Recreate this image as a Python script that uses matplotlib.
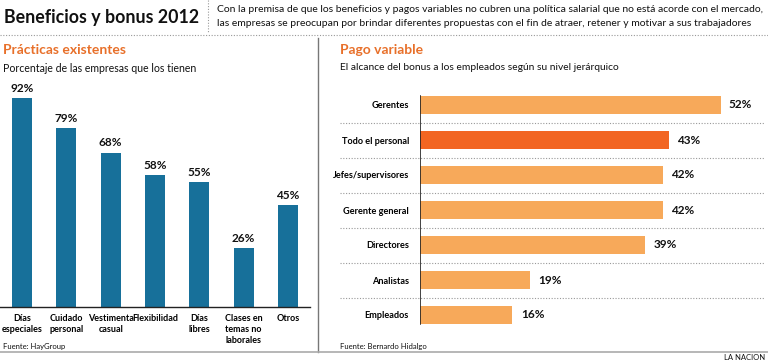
import matplotlib.pyplot as plt
from matplotlib.lines import Line2D

plt.rcParams['font.family'] = ['Lato', 'DejaVu Sans']

# left chart data
practicas = ["Días\nespeciales", "Cuidado\npersonal", "Vestimenta\ncasual", "Flexibilidad",
             "Días\nlibres", "Clases en\ntemas no\nlaborales", "Otros"]
practicas_pct = [92, 79, 68, 58, 55, 26, 45]

# right chart data
niveles = ["Gerentes", "Todo el personal", "Jefes/supervisores", "Gerente general",
           "Directores", "Analistas", "Empleados"]
niveles_pct = [52, 43, 42, 42, 39, 19, 16]

BLUE = "#17709a"
ORANGE = "#f7a95a"
ORANGE_HI = "#f26522"
TITLE_OR = "#e8702a"
W, H = 768, 362


def fx(x):
    return x / W


def fy(y):
    return 1 - y / H


fig = plt.figure(figsize=(7.68, 3.62), dpi=100)

# header
fig.text(fx(4), fy(18), "Beneficios y bonus 2012", fontsize=12.8, fontweight="bold",
         va="center", ha="left", color="#111")
fig.text(fx(217), fy(10), "Con la premisa de que los beneficios y pagos variables no cubren una política salarial que no está acorde con el mercado,",
         fontsize=7.5, va="center", ha="left", color="#111")
fig.text(fx(217), fy(23), "las empresas se preocupan por brindar diferentes propuestas con el fin de atraer, retener y motivar a sus trabajadores",
         fontsize=7.5, va="center", ha="left", color="#111")

fig.add_artist(Line2D([fx(208), fx(208)], [fy(0), fy(32)], color="#999", lw=0.8, ls=(0, (1, 1.5))))
fig.add_artist(Line2D([0, 1], [fy(35), fy(35)], color="#999", lw=0.8, ls=(0, (1, 1.5))))
fig.add_artist(Line2D([fx(318), fx(318)], [fy(38), fy(352)], color="#777", lw=1.0))
fig.add_artist(Line2D([0, 1], [fy(352), fy(352)], color="#aaa", lw=1.2))

# panel titles
fig.text(fx(3), fy(50), "Prácticas existentes", fontsize=10, fontweight="bold",
         color=TITLE_OR, va="center", ha="left")
fig.text(fx(3), fy(68), "Porcentaje de las empresas que los tienen", fontsize=7.6,
         color="#111", va="center", ha="left")
fig.text(fx(340), fy(50), "Pago variable", fontsize=10, fontweight="bold",
         color=TITLE_OR, va="center", ha="left")
fig.text(fx(340), fy(68), "El alcance del bonus a los empleados según su nivel jerárquico", fontsize=7.4,
         color="#111", va="center", ha="left")

# left bar chart
ax1 = fig.add_axes([fx(0), fy(307), fx(310), (307 - 80) / H])
pos1 = list(range(len(practicas)))
ax1.bar(pos1, practicas_pct, width=0.45, color=BLUE)
ax1.set_xlim(-0.5, len(practicas) - 0.5)
ax1.set_ylim(0, 100)
for i, v in zip(pos1, practicas_pct):
    ax1.annotate(f"{v}%", (i, v), xytext=(0, 3), textcoords="offset points",
                 ha="center", va="bottom", fontsize=8.5, fontweight="bold", color="#111")
ax1.set_xticks(pos1)
ax1.set_xticklabels(practicas, fontsize=6.5, fontweight="bold", linespacing=1.3, va="top")
ax1.tick_params(axis="x", length=0, pad=5)
ax1.set_yticks([])
for s in ["top", "right", "left"]:
    ax1.spines[s].set_visible(False)
ax1.spines["bottom"].set_color("#222")
ax1.spines["bottom"].set_linewidth(1.0)
fig.text(fx(3), fy(346), "Fuente: HayGroup", fontsize=5.5, color="#111", va="center", ha="left")

# right bar chart
ax2 = fig.add_axes([fx(420), fy(332.5), (765 - 420) / W, (332.5 - 87.5) / H])
pos2 = list(range(len(niveles)))
colors = [ORANGE_HI if n == "Todo el personal" else ORANGE for n in niveles]
ax2.barh(pos2, niveles_pct, height=0.5, color=colors)
ax2.set_ylim(len(niveles) - 0.5, -0.5)
ax2.set_xlim(0, 345 / 5.78)
for i, v in zip(pos2, niveles_pct):
    ax2.annotate(f"{v}%", (v, i), xytext=(6, 0), textcoords="offset points",
                 ha="left", va="center", fontsize=8.5, fontweight="bold", color="#111")
ax2.set_yticks(pos2)
ax2.set_yticklabels(niveles, fontsize=6.6, fontweight="bold")
ax2.tick_params(axis="y", length=0, pad=8)
ax2.set_xticks([])
for s in ["top", "right", "bottom", "left"]:
    ax2.spines[s].set_visible(False)
ax2.axvline(0, ymin=0.035, ymax=0.965, color="#222", lw=1.2)
for i in range(len(niveles) - 1):
    ax2.plot([-0.232, 1.0], [i + 0.5, i + 0.5], transform=ax2.get_yaxis_transform(),
             color="#999", lw=0.8, ls=(0, (1, 1.5)), clip_on=False)
fig.text(fx(340), fy(347), "Fuente: Bernardo Hidalgo", fontsize=5.5, color="#111", va="center", ha="left")
fig.text(fx(765), fy(357), "LA NACION", fontsize=5.5, color="#111", va="center", ha="right")

fig.savefig("out.png", dpi=100)
